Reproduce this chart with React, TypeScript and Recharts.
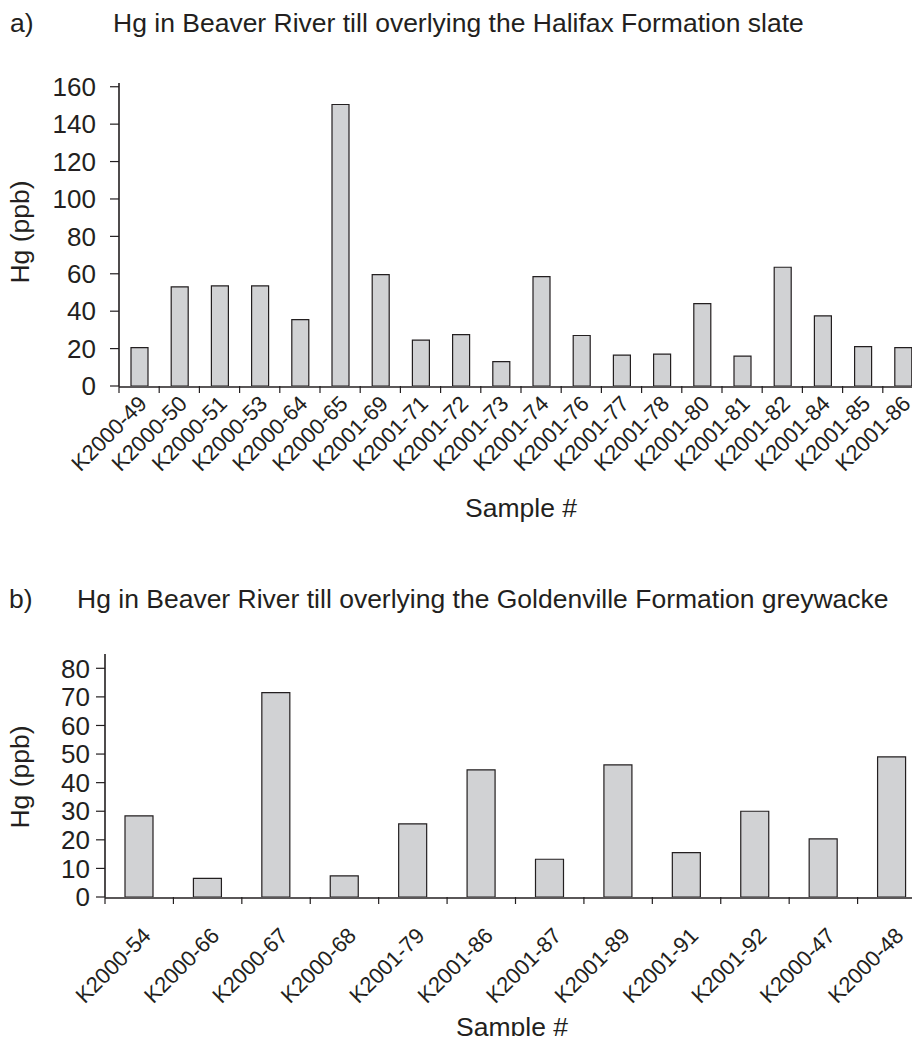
import { Bar, BarChart, XAxis, YAxis } from "recharts";

const FONT = "'Liberation Sans', Arial, Helvetica, sans-serif";
const INK = "#231f20";
const FILL = "#d1d2d4";

// a) till over Halifax Formation slate
const slateSamples = [
  "K2000-49", "K2000-50", "K2000-51", "K2000-53", "K2000-64",
  "K2000-65", "K2001-69", "K2001-71", "K2001-72", "K2001-73",
  "K2001-74", "K2001-76", "K2001-77", "K2001-78", "K2001-80",
  "K2001-81", "K2001-82", "K2001-84", "K2001-85", "K2001-86",
];
const slateHg = [
  20.5, 53, 53.5, 53.5, 35.5, 150.5, 59.5, 24.5, 27.5, 13,
  58.5, 27, 16.5, 17, 44, 16, 63.5, 37.5, 21, 20.5,
];
const slateTicks = [0, 20, 40, 60, 80, 100, 120, 140, 160];

// b) till over Goldenville Formation greywacke
const wackeSamples = [
  "K2000-54", "K2000-66", "K2000-67", "K2000-68", "K2001-79", "K2001-86",
  "K2001-87", "K2001-89", "K2001-91", "K2001-92", "K2000-47", "K2000-48",
];
const wackeHg = [28.4, 6.5, 71.5, 7.4, 25.6, 44.5, 13.2, 46.2, 15.5, 30, 20.3, 49];
const wackeTicks = [0, 10, 20, 30, 40, 50, 60, 70, 80];

function SampleTick(props: any) {
  const { x, y, payload, shiftX, shiftY } = props;
  const ax = x + shiftX;
  const ay = y + shiftY;
  return (
    <text
      x={ax}
      y={ay}
      transform={`rotate(-45 ${ax} ${ay})`}
      textAnchor="end"
      fontSize={22}
      fontFamily={FONT}
      fill={INK}
    >
      {payload.value}
    </text>
  );
}

type ChartProps = {
  samples: string[];
  values: number[];
  ticks: number[];
  max: number;
  height: number;
  top: number;
  bottom: number;
  yAxisWidth: number;
  right: number;
  barSize: number;
  yTickMargin: number;
  shiftX: number;
  shiftY: number;
};

function HgChart(p: ChartProps) {
  const data = p.samples.map((s, i) => ({ sample: s, hg: p.values[i], slot: i }));
  // tick marks sit between the categories, Excel style
  const bounds = [...p.samples.map((_, i) => i), p.samples.length];
  return (
    <BarChart
      width={930}
      height={p.height}
      data={data}
      margin={{ top: p.top, right: p.right, bottom: p.bottom, left: 0 }}
    >
      <XAxis
        xAxisId="cat"
        dataKey="sample"
        type="category"
        interval={0}
        tickSize={0}
        tickMargin={0}
        tickLine={false}
        axisLine={{ stroke: INK, strokeWidth: 1.6 }}
        height={1}
        tick={(t: any) => <SampleTick {...t} shiftX={p.shiftX} shiftY={p.shiftY} />}
      />
      <XAxis
        xAxisId="bounds"
        dataKey="slot"
        type="number"
        domain={[0, p.samples.length]}
        ticks={bounds}
        interval={0}
        allowDataOverflow
        tick={() => <g />}
        tickSize={7}
        tickLine={{ stroke: INK, strokeWidth: 1.2 }}
        axisLine={false}
        height={1}
      />
      <YAxis
        domain={[0, p.max]}
        ticks={p.ticks}
        interval={0}
        allowDataOverflow
        width={p.yAxisWidth}
        tickSize={9}
        tickMargin={p.yTickMargin}
        tick={{ fontSize: 26, fill: INK, fontFamily: FONT }}
        tickLine={{ stroke: INK, strokeWidth: 1.2 }}
        axisLine={{ stroke: INK, strokeWidth: 1.6 }}
      />
      <Bar
        xAxisId="cat"
        dataKey="hg"
        fill={FILL}
        stroke={INK}
        strokeWidth={1.2}
        barSize={p.barSize}
        isAnimationActive={false}
      />
    </BarChart>
  );
}

export default function App() {
  const txt = { fontFamily: FONT, fill: INK, fontSize: 26.5 };
  return (
    <div
      style={{
        position: "relative",
        margin: -8,
        width: 920,
        height: 1044,
        overflow: "hidden",
        background: "#fff",
      }}
    >
      <div style={{ position: "absolute", left: 0, top: 0 }}>
        <HgChart
          samples={slateSamples}
          values={slateHg}
          ticks={slateTicks}
          max={162}
          height={490}
          top={83}
          bottom={102}
          yAxisWidth={119}
          right={7}
          barSize={17}
          yTickMargin={14}
          shiftX={9}
          shiftY={18}
        />
      </div>
      <div style={{ position: "absolute", left: 0, top: 600 }}>
        <HgChart
          samples={wackeSamples}
          values={wackeHg}
          ticks={wackeTicks}
          max={85}
          height={420}
          top={54}
          bottom={121}
          yAxisWidth={105}
          right={4}
          barSize={28}
          yTickMargin={6}
          shiftX={13}
          shiftY={39}
        />
      </div>
      <svg
        width={920}
        height={1044}
        style={{ position: "absolute", left: 0, top: 0, pointerEvents: "none" }}
      >
        <text x={10} y={32} {...txt}>a)</text>
        <text x={113} y={32} {...txt}>
          Hg in Beaver River till overlying the Halifax Formation slate
        </text>
        <text x={29} y={232} transform="rotate(-90 29 232)" textAnchor="middle" {...txt}>
          Hg (ppb)
        </text>
        <text x={521} y={517} textAnchor="middle" {...txt}>Sample #</text>

        <text x={9} y={608} {...txt}>b)</text>
        <text x={77} y={608} {...txt}>
          Hg in Beaver River till overlying the Goldenville Formation greywacke
        </text>
        <text x={29} y={777} transform="rotate(-90 29 777)" textAnchor="middle" {...txt}>
          Hg (ppb)
        </text>
        <text x={512} y={1036} textAnchor="middle" {...txt}>Sample #</text>
      </svg>
    </div>
  );
}
